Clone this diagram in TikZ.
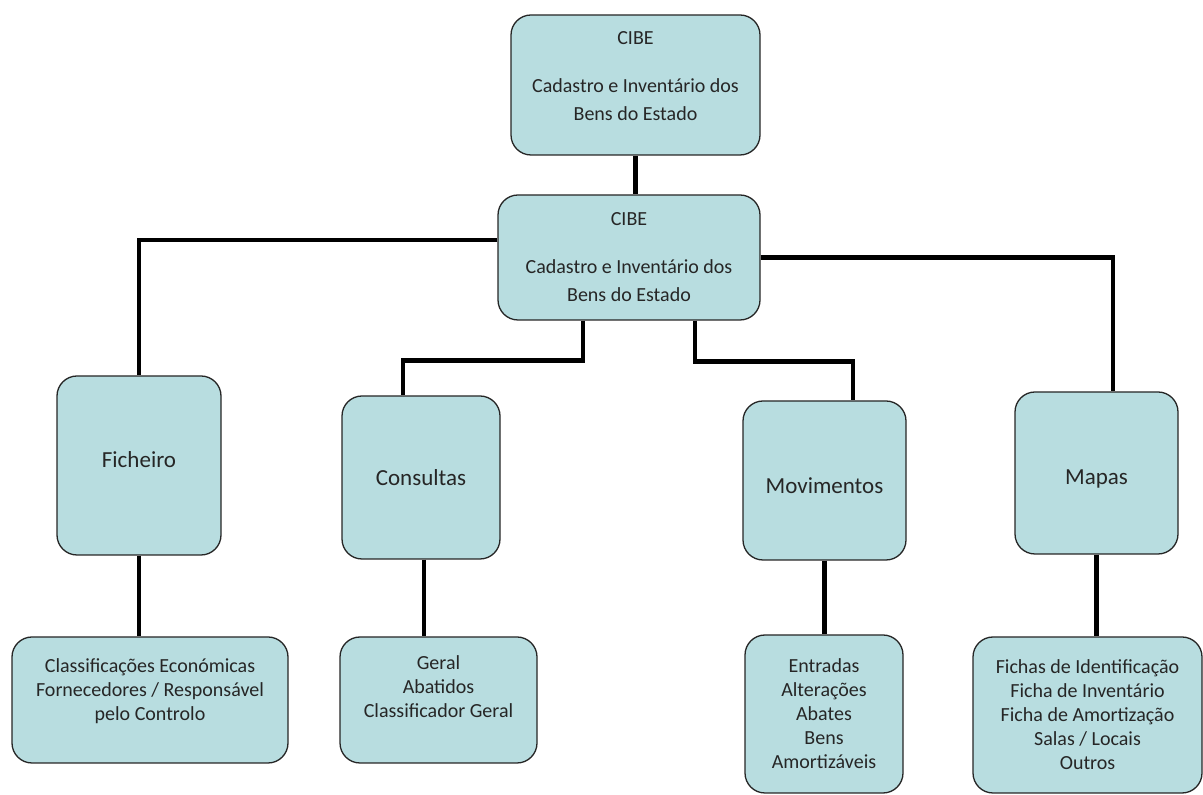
\documentclass[tikz,border=0pt]{standalone}
\usepackage{fontspec}
\setmainfont{Carlito}
\usetikzlibrary{positioning}
\definecolor{boxfill}{RGB}{184,221,224}
\begin{document}
\begin{tikzpicture}[x=1pt,y=1pt,
    box/.style={rectangle,rounded corners=20pt,draw=black!85,line width=1.3pt,fill=boxfill,align=center,text=black!85,inner sep=0pt},
    head/.style={box,font=\fontsize{20}{28}\selectfont},
    unit/.style={box,font=\fontsize{23}{28}\selectfont},
    sub/.style={box,font=\fontsize{20}{24}\selectfont},
    link/.style={line width=4.5pt}]
    \useasboundingbox (0,0) rectangle (1203,795);
    % Nodes
    \node[head,minimum width=249pt,minimum height=140pt,text depth=18pt] (top) at (635.5,710) {CIBE\\[20pt]Cadastro e Inventário dos\\Bens do Estado};
    \node[head,minimum width=262pt,minimum height=125pt] (cibe) at (629,537.5) {CIBE\\[20pt]Cadastro e Inventário dos\\Bens do Estado};
    \node[unit,minimum width=164pt,minimum height=179pt,text depth=12pt] (fich) at (139,329.5) {Ficheiro};
    \node[unit,minimum width=158pt,minimum height=163pt] (cons) at (421,317.5) {Consultas};
    \node[unit,minimum width=163pt,minimum height=159pt,text height=26pt] (movi) at (824.5,314.5) {Movimentos};
    \node[unit,minimum width=163pt,minimum height=162pt,text height=27pt] (mapas) at (1096.5,322) {Mapas};
    \node[sub,minimum width=276pt,minimum height=126pt,text depth=20pt] (fichsub) at (150,95) {Classificações Económicas\\Fornecedores / Responsável\\pelo Controlo};
    \node[sub,minimum width=197pt,minimum height=126pt,text depth=26pt] (conssub) at (438.5,95) {Geral\\Abatidos\\Classificador Geral};
    \node[sub,minimum width=158pt,minimum height=158pt] (movisub) at (824,81) {Entradas\\Alterações\\Abates\\Bens\\Amortizáveis};
    \node[sub,minimum width=229pt,minimum height=156pt] (mapassub) at (1087.5,80) {Fichas de Identificação\\Ficha de Inventário\\Ficha de Amortização\\Salas / Locais\\Outros};

    % Connectors
    \draw[link] (top.south) -- (top.south |- cibe.north);
    \draw[link] ([yshift=17.5pt]cibe.west) -| (fich.north);
    \draw[link] (cibe.east) -| ([xshift=16.5pt]mapas.north);
    \draw[link] ([xshift=-46pt]cibe.south) -- ++(0,-40) -| ([xshift=-18pt]cons.north);
    \draw[link] ([xshift=66pt]cibe.south) -- ++(0,-41) -| ([xshift=28.5pt]movi.north);
    \draw[link] (fich.south) -- (fich.south |- fichsub.north);
    \draw[link] ([xshift=3pt]cons.south) -- ([xshift=3pt]cons.south |- conssub.north);
    \draw[link] (movi.south) -- (movi.south |- movisub.north);
    \draw[link] (mapas.south) -- (mapas.south |- mapassub.north);
\end{tikzpicture}
\end{document}
